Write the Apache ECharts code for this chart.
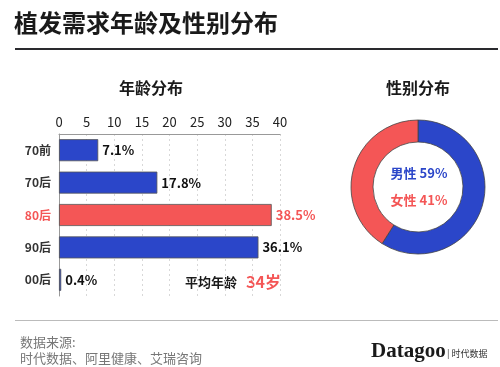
<!DOCTYPE html>
<html><head><meta charset="utf-8">
<script src="https://cdn.jsdelivr.net/npm/echarts@6/dist/echarts.min.js"></script>
<style>html,body{margin:0;padding:0;background:#fff}#c{width:500px;height:367px}</style>
</head><body><div id="c"></div>
<script>
const categories = ['70前','70后','80后','90后','00后'];
const ageValues = [7.1, 17.8, 38.5, 36.1, 0.4];
const highlightCategory = '80后';
const genderNames = ['男性','女性'];
const genderValues = [59, 41];
const xTicks = [0,5,10,15,20,25,30,35,40];
const avgAge = 34;

const BLUE = '#2b46c9', RED = '#f45656';
const F = '"Noto Sans CJK SC", "Noto Sans", sans-serif';
const chart = echarts.init(document.getElementById('c'));
chart.setOption({
  animation: false,
  backgroundColor: '#fff',
  textStyle: { fontFamily: F },
  grid: { left: 59, top: 134, width: 221, height: 162, containLabel: false },
  xAxis: {
    type: 'value', position: 'top', min: xTicks[0], max: xTicks[xTicks.length-1], interval: 5,
    axisLine: { show: true, lineStyle: { color: '#999', width: 1 } },
    axisTick: { show: false },
    axisLabel: { color: '#222', fontSize: 13, fontFamily: F, margin: 5 },
    splitLine: { show: true, lineStyle: { color: '#d8d8d8', type: [2,3] } }
  },
  yAxis: {
    type: 'category', inverse: true, data: categories,
    axisLine: { show: true, lineStyle: { color: '#999' } },
    axisTick: { show: false },
    axisLabel: {
      fontSize: 12, fontFamily: F, fontWeight: 'bold', margin: 8,
      color: (v) => v === highlightCategory ? RED : '#333'
    }
  },
  series: [
    {
      type: 'bar', barWidth: 22,
      data: ageValues.map((v, i) => ({
        value: v,
        itemStyle: { color: categories[i] === highlightCategory ? RED : BLUE },
        label: { color: categories[i] === highlightCategory ? RED : '#111' }
      })),
      itemStyle: { borderColor: '#555', borderWidth: 0.8 },
      label: { show: true, position: 'right', distance: 4, fontSize: 13, fontWeight: 'bold', fontFamily: F,
        formatter: (p) => p.value + '%' }
    },
    {
      type: 'pie', center: [418, 187], radius: [45, 67], startAngle: 90, clockwise: true,
      label: { show: false }, labelLine: { show: false }, silent: true,
      itemStyle: { borderColor: '#444', borderWidth: 0.8 },
      data: genderNames.map((n, i) => ({ name: n, value: genderValues[i], itemStyle: { color: i === 0 ? BLUE : RED } }))
    }
  ],
  graphic: [
    { type: 'text', x: 14, y: 23, style: { text: '植发需求年龄及性别分布', fontSize: 24, fontWeight: 'bold', fill: '#1a1a1a', fontFamily: F, verticalAlign: 'middle' } },
    { type: 'rect', shape: { x: 15, y: 48, width: 483, height: 2 }, style: { fill: '#2a2a2e' } },
    { type: 'text', x: 151, y: 88, style: { text: '年龄分布', fontSize: 16, fontWeight: 'bold', fill: '#1a1a1a', fontFamily: F, align: 'center', verticalAlign: 'middle' } },
    { type: 'text', x: 418, y: 88, style: { text: '性别分布', fontSize: 16, fontWeight: 'bold', fill: '#1a1a1a', fontFamily: F, align: 'center', verticalAlign: 'middle' } },
    { type: 'text', x: 419, y: 173, style: { text: genderNames[0] + ' ' + genderValues[0] + '%', fontSize: 13, fontWeight: 'bold', fill: BLUE, fontFamily: F, align: 'center', verticalAlign: 'middle' } },
    { type: 'text', x: 419, y: 200, style: { text: genderNames[1] + ' ' + genderValues[1] + '%', fontSize: 13, fontWeight: 'bold', fill: RED, fontFamily: F, align: 'center', verticalAlign: 'middle' } },
    { type: 'text', x: 185, y: 282, style: { text: '平均年龄', fontSize: 13, fontWeight: 'bold', fill: '#1a1a1a', fontFamily: F, verticalAlign: 'middle' } },
    { type: 'text', x: 246, y: 282, style: { text: avgAge + '岁', fontSize: 16, fontWeight: 'bold', fill: RED, fontFamily: F, verticalAlign: 'middle' } },
    { type: 'rect', shape: { x: 15, y: 320, width: 483, height: 1 }, style: { fill: '#bbb' } },
    { type: 'text', x: 20, y: 342, style: { text: '数据来源:', fontSize: 13, fill: '#777', fontFamily: F, verticalAlign: 'middle' } },
    { type: 'text', x: 20, y: 358, style: { text: '时代数据、阿里健康、艾瑞咨询', fontSize: 13, fill: '#777', fontFamily: F, verticalAlign: 'middle' } },
    { type: 'text', x: 371, y: 352, style: { text: 'Datagoo', fontSize: 21, fontWeight: 'bold', fill: '#1a1a1a', fontFamily: '"Liberation Serif", "DejaVu Serif", serif', verticalAlign: 'middle' } },
    { type: 'text', x: 447, y: 354, style: { text: '| 时代数据', fontSize: 9, fill: '#333', fontFamily: F, verticalAlign: 'middle' } }
  ]
});
</script></body></html>
